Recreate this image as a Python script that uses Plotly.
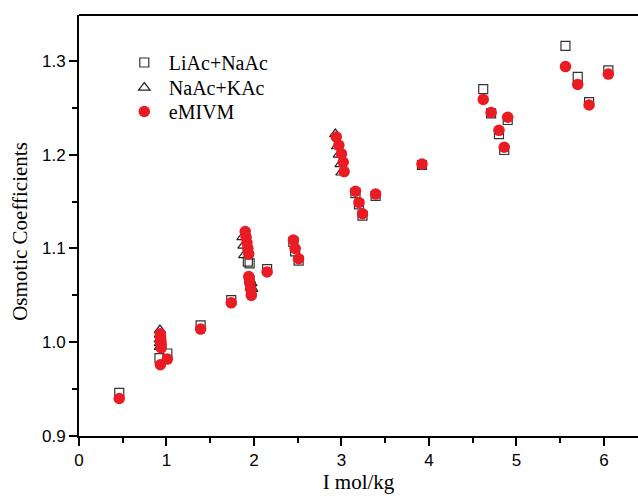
import plotly.graph_objects as go

# LiAc+NaAc experimental osmotic coefficients
lina_I = [0.46, 0.92, 1.01, 1.39, 1.74, 1.93, 1.95, 1.95, 1.96, 1.97, 2.15,
          2.45, 2.47, 2.51, 3.16, 3.20, 3.24, 3.39, 3.92, 4.62, 4.71, 4.80,
          4.86, 4.90, 5.56, 5.70, 5.83, 6.05]
lina_phi = [0.946, 0.983, 0.988, 1.018, 1.045, 1.086, 1.084, 1.066, 1.060, 1.053, 1.078,
            1.107, 1.097, 1.087, 1.159, 1.147, 1.135, 1.156, 1.189, 1.270, 1.244, 1.222,
            1.205, 1.237, 1.316, 1.283, 1.256, 1.290]

# NaAc+KAc experimental osmotic coefficients
nak_I = [0.925, 0.925, 0.925, 0.925, 0.925, 1.87, 1.88, 1.89, 1.97, 1.98,
         2.93, 2.95, 2.97, 2.99, 3.00]
nak_phi = [1.013, 1.008, 1.003, 0.999, 0.995, 1.112, 1.103, 1.093, 1.063, 1.057,
           1.222, 1.209, 1.200, 1.190, 1.181]

# eMIVM predictions
model_I = [0.46, 0.93, 0.93, 0.935, 0.935, 0.94, 0.94, 0.93, 1.01, 1.39, 1.74,
           1.90, 1.91, 1.92, 1.93, 1.94, 1.94, 1.95, 1.96, 1.97, 2.15,
           2.45, 2.47, 2.51, 2.94, 2.97, 3.00, 3.02, 3.03, 3.16, 3.20, 3.24,
           3.39, 3.92, 4.62, 4.71, 4.80, 4.86, 4.90, 5.56, 5.70, 5.83, 6.05]
model_phi = [0.940, 1.009, 1.006, 1.003, 1.000, 0.997, 0.994, 0.976, 0.982, 1.014, 1.042,
             1.118, 1.112, 1.106, 1.100, 1.094, 1.070, 1.064, 1.057, 1.050, 1.075,
             1.109, 1.100, 1.089, 1.219, 1.210, 1.201, 1.192, 1.182, 1.161, 1.149, 1.137,
             1.158, 1.190, 1.259, 1.245, 1.226, 1.208, 1.240, 1.294, 1.275, 1.253, 1.286]

x_ticks = [0, 1, 2, 3, 4, 5, 6]
y_ticks = [0.9, 1.0, 1.1, 1.2, 1.3]
y_ticklabels = ["0.9", "1.0", "1.1", "1.2", "1.3"]

SERIF = "Liberation Serif, Times New Roman, serif"
SANS = "Liberation Sans, Arial, sans-serif"
RED = "rgb(233,28,36)"

fig = go.Figure()
fig.add_trace(go.Scatter(
    x=lina_I, y=lina_phi, mode="markers", name="LiAc+NaAc", legend="legend",
    showlegend=True,
    marker=dict(symbol="square-open", size=9, color="#333333", line=dict(width=1.2)),
))
fig.add_trace(go.Scatter(
    x=nak_I, y=nak_phi, mode="markers", name="NaAc+KAc", legend="legend2",
    showlegend=True,
    marker=dict(symbol="triangle-up-open", size=10, color="#222222", line=dict(width=1.2)),
))
fig.add_trace(go.Scatter(
    x=model_I, y=model_phi, mode="markers", name="eMIVM", legend="legend3",
    showlegend=True,
    marker=dict(symbol="circle", size=11.5, color=RED, line=dict(width=0)),
))

axis_common = dict(
    showline=True, linecolor="black", linewidth=1.8,
    ticks="outside", ticklen=8, tickwidth=1.5, tickcolor="black",
    showgrid=False, zeroline=False,
    tickfont=dict(family=SANS, size=17, color="black"),
)

fig.update_xaxes(
    range=[0, 6.389], tickvals=x_ticks,
    minor=dict(ticks="outside", ticklen=5, tickwidth=1.5, tickcolor="black", dtick=0.5, tick0=0),
    title=dict(text="I mol/kg", font=dict(family=SERIF, size=21, color="black"), standoff=5),
    **axis_common,
)
fig.update_yaxes(
    range=[0.9, 1.349], tickvals=y_ticks, ticktext=y_ticklabels,
    minor=dict(ticks="outside", ticklen=5, tickwidth=1.5, tickcolor="black", dtick=0.05, tick0=0.9),
    **axis_common,
)

# y-axis title, set slightly below the plot's vertical centre
fig.add_annotation(
    text="Osmotic Coefficients", textangle=-90, showarrow=False,
    xref="paper", yref="paper", x=-0.1055, y=0.485,
    xanchor="center", yanchor="middle",
    font=dict(family=SERIF, size=21, color="black"),
)

# top frame line
fig.add_shape(type="line", xref="paper", yref="paper", x0=0, x1=1, y0=1, y1=1,
              line=dict(color="black", width=1.8))

legend_style = dict(
    xanchor="left", yanchor="top",
    font=dict(family=SERIF, size=20, color="black"),
    bgcolor="rgba(0,0,0,0)", itemwidth=39,
)

fig.update_layout(
    width=638, height=496,
    margin=dict(l=79, r=0, t=15, b=60),
    plot_bgcolor="white", paper_bgcolor="white",
    showlegend=True,
    legend=dict(x=0.073, y=0.9335, **legend_style),
    legend2=dict(x=0.073, y=0.874, **legend_style),
    legend3=dict(x=0.073, y=0.817, **legend_style),
)

fig.write_html("out.html")
